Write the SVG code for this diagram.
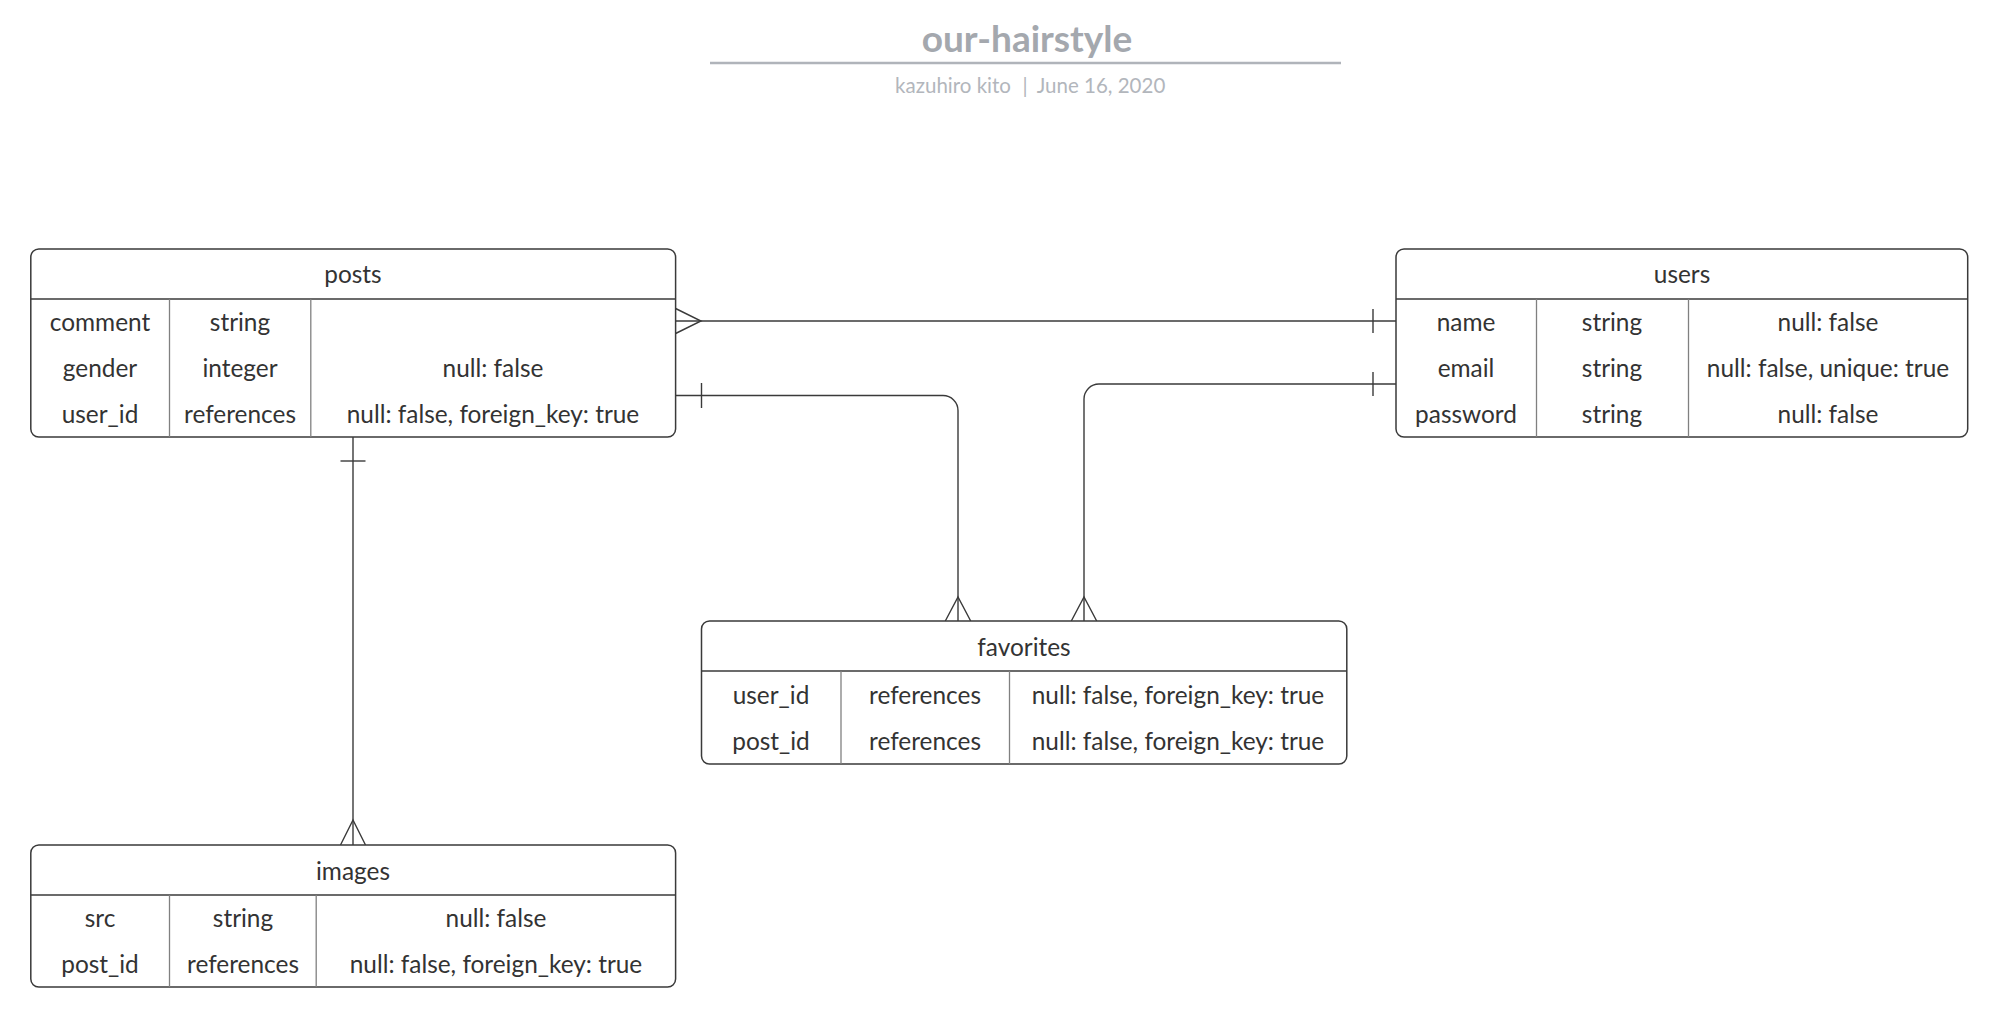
<svg xmlns="http://www.w3.org/2000/svg" width="2014" height="1030" viewBox="0 0 2014 1030">
<style>
.bg{fill:#ffffff}
.box{fill:#ffffff;stroke:#3a3a3a;stroke-width:1.5}
.hd{stroke:#3a3a3a;stroke-width:1.5}
.dv{stroke:#808080;stroke-width:1.3}
.t{font-family:Lato,"Liberation Sans",sans-serif;font-size:24.4px;fill:#333333;text-anchor:middle}
.c{fill:none;stroke:#3a3a3a;stroke-width:1.4}
.title{font-family:Lato,"Liberation Sans",sans-serif;font-size:37px;font-weight:bold;fill:#a4a8ae;text-anchor:middle}
.sub{font-family:Lato,"Liberation Sans",sans-serif;font-size:20.5px;fill:#b2b6bc;text-anchor:middle}
</style>
<rect class="bg" x="0" y="0" width="2014" height="1030"/>
<g id="header">
<text class="title" x="1027" y="52">our-hairstyle</text>
<line x1="710" y1="63" x2="1341" y2="63" stroke="#b0b4ba" stroke-width="2.5"/>
<text class="sub" y="93"><tspan x="953">kazuhiro kito</tspan><tspan x="1025">|</tspan><tspan x="1101">June 16, 2020</tspan></text>
</g>
<g id="connectors">
<path class="c" d="M675.6 321 H1396"/>
<path class="c" d="M675.6 308.5 L701 321 L675.6 333.5"/>
<path class="c" d="M1373 309 V333"/>
<path class="c" d="M675.6 395.5 H943 A15 15 0 0 1 958 410.5 V621"/>
<path class="c" d="M701.5 383 V408"/>
<path class="c" d="M945.3 621 L958 597 L970.7 621"/>
<path class="c" d="M1396 384 H1099 A15 15 0 0 0 1084 399 V621"/>
<path class="c" d="M1373 372 V396"/>
<path class="c" d="M1071.3 621 L1084 597 L1096.7 621"/>
<path class="c" d="M353 437 V845"/>
<path class="c" d="M340.5 461 H365.5"/>
<path class="c" d="M340.5 845 L353 820 L365.5 845"/>
</g>
<g id="posts">
<rect class="box" x="30.8" y="249" width="644.8" height="188" rx="8"/>
<line class="hd" x1="30.8" y1="299" x2="675.6" y2="299"/>
<line class="dv" x1="169.5" y1="299" x2="169.5" y2="437"/>
<line class="dv" x1="310.8" y1="299" x2="310.8" y2="437"/>
<text class="t" x="353" y="283">posts</text>
<text class="t" x="100" y="331">comment</text>
<text class="t" x="240" y="331">string</text>
<text class="t" x="100" y="377">gender</text>
<text class="t" x="240" y="377">integer</text>
<text class="t" x="493" y="377">null: false</text>
<text class="t" x="100" y="423">user_id</text>
<text class="t" x="240" y="423">references</text>
<text class="t" x="493" y="423">null: false, foreign_key: true</text>
</g>
<g id="users">
<rect class="box" x="1396" y="249" width="571.7" height="188" rx="8"/>
<line class="hd" x1="1396" y1="299" x2="1967.7" y2="299"/>
<line class="dv" x1="1536.5" y1="299" x2="1536.5" y2="437"/>
<line class="dv" x1="1688.5" y1="299" x2="1688.5" y2="437"/>
<text class="t" x="1682" y="283">users</text>
<text class="t" x="1466" y="331">name</text>
<text class="t" x="1612" y="331">string</text>
<text class="t" x="1828" y="331">null: false</text>
<text class="t" x="1466" y="377">email</text>
<text class="t" x="1612" y="377">string</text>
<text class="t" x="1828" y="377">null: false, unique: true</text>
<text class="t" x="1466" y="423">password</text>
<text class="t" x="1612" y="423">string</text>
<text class="t" x="1828" y="423">null: false</text>
</g>
<g id="favorites">
<rect class="box" x="701.5" y="621" width="645.3" height="143" rx="8"/>
<line class="hd" x1="701.5" y1="671" x2="1346.8" y2="671"/>
<line class="dv" x1="841" y1="671" x2="841" y2="764"/>
<line class="dv" x1="1009.5" y1="671" x2="1009.5" y2="764"/>
<text class="t" x="1024" y="656">favorites</text>
<text class="t" x="771" y="704">user_id</text>
<text class="t" x="925" y="704">references</text>
<text class="t" x="1178" y="704">null: false, foreign_key: true</text>
<text class="t" x="771" y="750">post_id</text>
<text class="t" x="925" y="750">references</text>
<text class="t" x="1178" y="750">null: false, foreign_key: true</text>
</g>
<g id="images">
<rect class="box" x="30.8" y="845" width="644.8" height="142" rx="8"/>
<line class="hd" x1="30.8" y1="895" x2="675.6" y2="895"/>
<line class="dv" x1="169.5" y1="895" x2="169.5" y2="987"/>
<line class="dv" x1="316.2" y1="895" x2="316.2" y2="987"/>
<text class="t" x="353" y="880">images</text>
<text class="t" x="100" y="927">src</text>
<text class="t" x="243" y="927">string</text>
<text class="t" x="496" y="927">null: false</text>
<text class="t" x="100" y="973">post_id</text>
<text class="t" x="243" y="973">references</text>
<text class="t" x="496" y="973">null: false, foreign_key: true</text>
</g>
</svg>
